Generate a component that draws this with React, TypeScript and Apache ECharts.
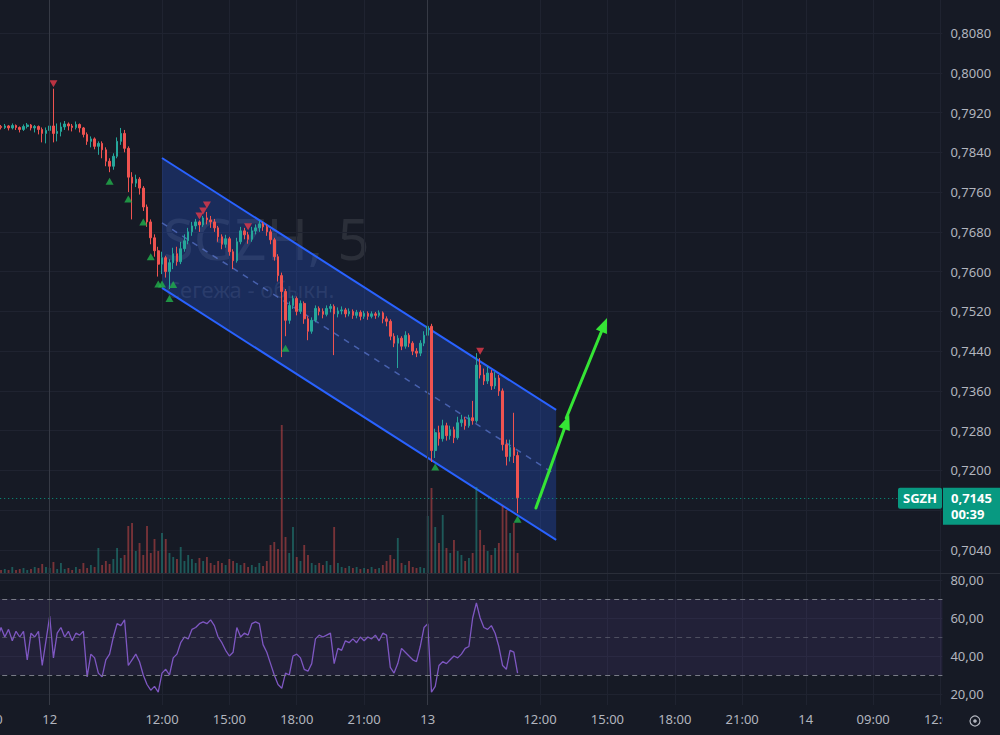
import React, { useEffect, useRef } from "react";
import * as echarts from "echarts";

const BG = "#161a25";
const GRID_LINE = "#1f2330";
const SEP_LINE = "#363a45";
const TEXT = "#b2b5be";
const UP = "#26a69a";
const DOWN = "#ef5350";
const FONT = "'Noto Sans', sans-serif";

// Trading sessions (10-minute slots)
const SESSIONS = [
  { day: "11", start: "21:00", end: "23:40" },
  { day: "12", start: "07:00", end: "23:40" },
  { day: "13", start: "07:00", end: "23:40" },
  { day: "14", start: "06:00", end: "12:00" },
];
const pad = (n: number) => (n < 10 ? "0" + n : "" + n);
const CATEGORIES: string[] = [];
for (const s of SESSIONS) {
  const [sh, sm] = s.start.split(":").map(Number);
  const [eh, em] = s.end.split(":").map(Number);
  for (let t = sh * 60 + sm; t <= eh * 60 + em; t += 10) {
    CATEGORIES.push(`${s.day} ${pad(Math.floor(t / 60))}:${pad(t % 60)}`);
  }
}

const TICK_CATEGORIES = [
  "11 21:00", "12 07:00", "12 12:00", "12 15:00", "12 18:00", "12 21:00",
  "13 07:00", "13 12:00", "13 15:00", "13 18:00", "13 21:00",
  "14 06:00", "14 09:00", "14 12:00",
];
const TICK_TEXTS = [
  "21:00", "12", "12:00", "15:00", "18:00", "21:00",
  "13", "12:00", "15:00", "18:00", "21:00",
  "14", "09:00", "12:00",
];
const SESSION_STARTS = ["12 07:00", "13 07:00"];

// [open, close, low, high] in 1/10000 RUB
const PRICE_SCALE = 10000;
const CANDLES = [
  [7888, 7890, 7884, 7894], [7890, 7890, 7885, 7895], [7890, 7887, 7883, 7893], [7887, 7892, 7884, 7896],
  [7892, 7890, 7886, 7895], [7890, 7893, 7887, 7897], [7893, 7889, 7884, 7895], [7889, 7894, 7886, 7898],
  [7894, 7890, 7885, 7896], [7890, 7886, 7880, 7892], [7886, 7892, 7883, 7896], [7892, 7895, 7888, 7899],
  [7895, 7889, 7884, 7897], [7889, 7892, 7880, 7895], [7892, 7886, 7876, 7894], [7886, 7878, 7860, 7890],
  [7878, 7884, 7858, 7890], [7884, 7893, 7865, 7895], [7893, 7878, 7860, 7968], [7878, 7882, 7862, 7898],
  [7882, 7891, 7872, 7900], [7891, 7897, 7885, 7903], [7897, 7893, 7884, 7900], [7893, 7890, 7882, 7897],
  [7890, 7896, 7886, 7902], [7896, 7889, 7880, 7898], [7889, 7876, 7870, 7891], [7876, 7862, 7855, 7880],
  [7862, 7867, 7850, 7872], [7867, 7852, 7846, 7870], [7852, 7858, 7835, 7862], [7858, 7845, 7828, 7862],
  [7845, 7822, 7812, 7850], [7822, 7812, 7800, 7828], [7812, 7832, 7805, 7838], [7832, 7862, 7828, 7870],
  [7862, 7878, 7855, 7889], [7878, 7848, 7840, 7885], [7848, 7790, 7760, 7852], [7790, 7778, 7705, 7800],
  [7778, 7786, 7770, 7795], [7786, 7768, 7755, 7790], [7768, 7730, 7722, 7772], [7730, 7700, 7690, 7735],
  [7700, 7668, 7655, 7705], [7668, 7642, 7630, 7675], [7642, 7615, 7590, 7650], [7615, 7628, 7595, 7640],
  [7628, 7600, 7588, 7632], [7600, 7618, 7565, 7625], [7618, 7636, 7605, 7648], [7636, 7620, 7612, 7650],
  [7620, 7646, 7615, 7660], [7646, 7662, 7640, 7675], [7662, 7680, 7655, 7688], [7680, 7692, 7672, 7700],
  [7692, 7700, 7685, 7706], [7700, 7694, 7680, 7703], [7694, 7708, 7690, 7712], [7708, 7704, 7695, 7720],
  [7704, 7700, 7688, 7712], [7700, 7688, 7680, 7706], [7688, 7670, 7660, 7692], [7670, 7655, 7645, 7675],
  [7655, 7666, 7648, 7674], [7666, 7640, 7632, 7670], [7640, 7622, 7605, 7645], [7622, 7660, 7618, 7668],
  [7660, 7682, 7655, 7690], [7682, 7674, 7665, 7688], [7674, 7665, 7656, 7680], [7665, 7682, 7660, 7690],
  [7682, 7688, 7675, 7695], [7688, 7696, 7680, 7703], [7696, 7690, 7682, 7700], [7690, 7680, 7672, 7695],
  [7680, 7664, 7655, 7685], [7664, 7630, 7622, 7668], [7630, 7592, 7580, 7635], [7592, 7560, 7428, 7598],
  [7560, 7502, 7470, 7565], [7502, 7532, 7495, 7540], [7532, 7546, 7525, 7552], [7546, 7520, 7512, 7550],
  [7520, 7536, 7515, 7542], [7536, 7505, 7495, 7540], [7505, 7480, 7462, 7510], [7480, 7502, 7475, 7508],
  [7502, 7526, 7498, 7532], [7526, 7520, 7512, 7530], [7520, 7514, 7506, 7526], [7514, 7526, 7510, 7532],
  [7526, 7530, 7518, 7535], [7530, 7515, 7432, 7534], [7515, 7521, 7508, 7528], [7521, 7523, 7514, 7530],
  [7523, 7515, 7508, 7527], [7515, 7520, 7510, 7526], [7520, 7512, 7505, 7524], [7512, 7518, 7506, 7523],
  [7518, 7510, 7502, 7522], [7510, 7516, 7505, 7521], [7516, 7510, 7503, 7520], [7510, 7515, 7506, 7520],
  [7515, 7512, 7505, 7519], [7512, 7517, 7508, 7522], [7517, 7505, 7496, 7520], [7505, 7500, 7490, 7510],
  [7500, 7470, 7462, 7504], [7470, 7456, 7448, 7476], [7456, 7466, 7406, 7472], [7466, 7450, 7442, 7470],
  [7450, 7472, 7445, 7480], [7472, 7456, 7448, 7476], [7456, 7440, 7432, 7460], [7440, 7436, 7428, 7446],
  [7436, 7456, 7430, 7462], [7456, 7472, 7450, 7480], [7472, 7490, 7465, 7513], [7490, 7240, 7217, 7495],
  [7240, 7276, 7225, 7284], [7276, 7264, 7250, 7290], [7264, 7290, 7258, 7302], [7290, 7270, 7260, 7296],
  [7270, 7282, 7262, 7290], [7282, 7266, 7255, 7288], [7266, 7296, 7262, 7308], [7296, 7302, 7288, 7312],
  [7302, 7290, 7282, 7308], [7290, 7306, 7286, 7312], [7306, 7300, 7292, 7340], [7300, 7412, 7296, 7436],
  [7412, 7392, 7385, 7426], [7392, 7380, 7372, 7405], [7380, 7396, 7374, 7410], [7396, 7370, 7362, 7402],
  [7370, 7386, 7364, 7398], [7386, 7360, 7350, 7392], [7360, 7252, 7240, 7365], [7252, 7228, 7210, 7262],
  [7228, 7246, 7218, 7262], [7246, 7230, 7215, 7316], [7230, 7145, 7114, 7238],
];

// volume, arbitrary units
const VOLUME = [
  3, 4, 2, 5, 3, 4, 3, 6, 3, 4, 5, 3, 4, 6, 5,
  9, 6, 5, 11, 4, 10, 4, 5, 3, 6, 4, 10, 5, 8, 6,
  25, 8, 12, 9, 14, 25, 15, 18, 47, 50, 22, 30, 18, 47, 20,
  34, 22, 40, 34, 20, 16, 14, 26, 12, 18, 14, 10, 15, 12, 16,
  10, 8, 12, 10, 8, 14, 12, 10, 8, 10, 6, 8, 6, 10, 7,
  12, 28, 31, 24, 148, 36, 20, 46, 16, 12, 28, 18, 10, 8, 10,
  8, 12, 8, 46, 10, 6, 5, 7, 5, 6, 4, 5, 4, 6, 4,
  5, 8, 12, 18, 14, 35, 10, 8, 12, 6, 5, 6, 5, 57, 85,
  46, 30, 58, 25, 20, 33, 22, 18, 12, 15, 20, 86, 43, 28, 22,
  18, 25, 30, 67, 63, 40, 50, 20,
];
const VOLUME_AXIS_MAX = 573;

const RSI = [
  52, 50, 54, 49, 55, 50, 54, 48, 53, 50, 53, 38, 52, 50, 53,
  35, 48, 61, 39, 52, 55, 50, 53, 48, 52, 51, 53, 29, 41, 39,
  31, 29, 38, 41, 50, 57, 56, 59, 35, 38, 41, 37, 30, 25, 22,
  24, 21, 31, 33, 30, 39, 41, 47, 50, 49, 54, 55, 57, 58, 57,
  59, 56, 50, 47, 43, 40, 42, 55, 50, 52, 51, 57, 58, 57, 46,
  42, 36, 30, 25, 23, 31, 30, 40, 41, 39, 33, 32, 36, 49, 51,
  50, 51, 52, 36, 44, 43, 48, 47, 49, 47, 50, 48, 50, 49, 51,
  48, 52, 51, 34, 31, 36, 44, 42, 40, 38, 37, 45, 55, 57, 21,
  24, 35, 37, 36, 38, 40, 39, 41, 44, 45, 60, 68, 60, 55, 54,
  56, 52, 45, 35, 33, 43, 42, 31,
];

// pivot markers [slot index, price]
const PIVOT_LOWS = [
  [33, 0.7782], [38, 0.7746], [42, 0.77], [44, 0.763], [46, 0.7575], [47, 0.7575],
  [49, 0.7546], [50, 0.7574], [80, 0.7446], [120, 0.7207], [142, 0.7102],
];
const PIVOT_HIGHS = [
  [18, 0.7978], [57, 0.7712], [58, 0.7722], [59, 0.7734], [70, 0.769], [132, 0.744],
];

const LAST_PRICE = 0.7145;
const COUNTDOWN = "00:39";
const SYMBOL = "SGZH";
const WATERMARK = "SGZH, 5";
const DESCRIPTION = "Сегежа - обыкн.";

const PRICE_RANGE = { min: 0.69937, max: 0.81464, step: 0.008 };
const RSI_RANGE = { min: 14.21, max: 83.16, step: 20 };
const RSI_LEVELS = [70, 50, 30];

// drawings anchored in (slot index, price)
const CHANNEL = { k0: 47, k1: 152.3, upper: [0.78286, 0.73217], lower: [0.75671, 0.70602] };
const ARROWS = [
  [146.9, 0.71245, 155.8, 0.73116],
  [155.0, 0.73056, 165.9, 0.75068],
];

const GRID_LEFT = -15.8;
const GRID_RIGHT = 57.6;

function coordAt(api: any, k: number, p: number) {
  const k0 = Math.floor(k);
  const a = api.coord([k0, p]);
  const b = api.coord([k0 + 1, p]);
  return [a[0] + (b[0] - a[0]) * (k - k0), a[1]];
}

function arrowShapes(api: any, a: number[], color: string) {
  const s = coordAt(api, a[0], a[1]);
  const e = coordAt(api, a[2], a[3]);
  const dx = e[0] - s[0];
  const dy = e[1] - s[1];
  const len = Math.sqrt(dx * dx + dy * dy);
  const ux = dx / len;
  const uy = dy / len;
  const L = 15;
  const W = 12;
  const bx = e[0] - ux * L;
  const by = e[1] - uy * L;
  const nx = -uy;
  const ny = ux;
  return [
    {
      type: "line",
      shape: { x1: s[0], y1: s[1], x2: bx + ux * 2, y2: by + uy * 2 },
      style: { stroke: color, lineWidth: 3, lineCap: "round" },
    },
    {
      type: "polygon",
      shape: {
        points: [
          [e[0], e[1]],
          [bx + (nx * W) / 2, by + (ny * W) / 2],
          [bx - (nx * W) / 2, by - (ny * W) / 2],
        ],
      },
      style: { fill: color },
    },
  ];
}

const tickSet = new Set(TICK_CATEGORIES);
const tickFilter = (_i: number, v: string) => tickSet.has(v);
const priceFmt = (v: number) => v.toFixed(4).replace(".", ",");
const priceAxisFmt = (v: number) =>
  Math.abs(v - LAST_PRICE) < PRICE_RANGE.step * 0.6 ? "" : priceFmt(v);
const rsiFmt = (v: number) => v.toFixed(2).replace(".", ",");

export default function App() {
  const ref = useRef<HTMLDivElement>(null);

  useEffect(() => {
    const chart = echarts.init(ref.current!, null, { renderer: "svg" });

    const candleData = CANDLES.map((c) => c.map((v) => v / PRICE_SCALE));
    const volumeData = VOLUME.map((v, i) => ({
      value: v,
      itemStyle: {
        color: CANDLES[i][1] >= CANDLES[i][0] ? "rgba(38,166,154,0.45)" : "rgba(239,83,80,0.45)",
      },
    }));

    const sepLines = SESSION_STARTS.map((c) => ({
      xAxis: c,
      lineStyle: { color: SEP_LINE, width: 1, type: "solid" },
    }));

    const gridBase = {
      left: GRID_LEFT,
      right: GRID_RIGHT,
      containLabel: false,
      outerBoundsMode: "none",
    };

    const option: any = {
      animation: false,
      backgroundColor: BG,
      textStyle: { fontFamily: FONT },
      grid: [
        { ...gridBase, top: 0, height: 573 },
        { ...gridBase, top: 574, height: 131 },
      ],
      xAxis: [
        {
          type: "category",
          gridIndex: 0,
          data: CATEGORIES,
          boundaryGap: true,
          axisLine: { show: false },
          axisTick: { show: false },
          axisLabel: { show: false },
          splitLine: {
            show: true,
            interval: tickFilter,
            alignWithLabel: true,
            lineStyle: { color: GRID_LINE, width: 1 },
          },
        },
        {
          type: "category",
          gridIndex: 1,
          data: CATEGORIES,
          boundaryGap: true,
          axisLine: { show: false },
          axisTick: { show: false, alignWithLabel: true },
          axisLabel: {
            show: true,
            interval: tickFilter,
            formatter: (v: string) => {
              const i = TICK_CATEGORIES.indexOf(v);
              return i >= 0 ? TICK_TEXTS[i] : "";
            },
            color: TEXT,
            fontSize: 13,
            margin: 7,
            fontFamily: FONT,
          },
          splitLine: {
            show: true,
            interval: tickFilter,
            alignWithLabel: true,
            lineStyle: { color: GRID_LINE, width: 1 },
          },
        },
      ],
      yAxis: [
        {
          type: "value",
          gridIndex: 0,
          position: "right",
          min: PRICE_RANGE.min,
          max: PRICE_RANGE.max,
          minInterval: PRICE_RANGE.step,
          maxInterval: PRICE_RANGE.step,
          splitNumber: 14,
          axisLine: { show: false },
          axisTick: { show: false },
          axisLabel: {
            formatter: priceAxisFmt,
            color: TEXT,
            fontSize: 13,
            margin: 8,
            showMinLabel: false,
            showMaxLabel: false,
            fontFamily: FONT,
          },
          splitLine: {
            show: true,
            showMinLine: false,
            showMaxLine: false,
            lineStyle: { color: GRID_LINE, width: 1 },
          },
        },
        {
          type: "value",
          gridIndex: 0,
          min: 0,
          max: VOLUME_AXIS_MAX,
          show: false,
          splitLine: { show: false },
        },
        {
          type: "value",
          gridIndex: 1,
          position: "right",
          min: RSI_RANGE.min,
          max: RSI_RANGE.max,
          minInterval: RSI_RANGE.step,
          maxInterval: RSI_RANGE.step,
          splitNumber: 3,
          axisLine: { show: false },
          axisTick: { show: false },
          axisLabel: {
            formatter: rsiFmt,
            color: TEXT,
            fontSize: 13,
            margin: 8,
            showMinLabel: false,
            showMaxLabel: false,
            fontFamily: FONT,
          },
          splitLine: {
            show: true,
            showMinLine: false,
            showMaxLine: false,
            lineStyle: { color: GRID_LINE, width: 1 },
          },
        },
      ],
      series: [
        {
          type: "custom",
          name: "channel",
          xAxisIndex: 0,
          yAxisIndex: 0,
          z: 1,
          silent: true,
          data: [[0, LAST_PRICE]],
          renderItem: (_p: any, api: any) => {
            const u0 = coordAt(api, CHANNEL.k0, CHANNEL.upper[0]);
            const u1 = coordAt(api, CHANNEL.k1, CHANNEL.upper[1]);
            const l0 = coordAt(api, CHANNEL.k0, CHANNEL.lower[0]);
            const l1 = coordAt(api, CHANNEL.k1, CHANNEL.lower[1]);
            const m0 = coordAt(api, CHANNEL.k0, (CHANNEL.upper[0] + CHANNEL.lower[0]) / 2);
            const m1 = coordAt(api, CHANNEL.k1, (CHANNEL.upper[1] + CHANNEL.lower[1]) / 2);
            const children: any[] = [
              {
                type: "polygon",
                shape: { points: [u0, u1, l1, l0] },
                style: { fill: "rgba(41,98,255,0.25)" },
              },
              {
                type: "line",
                shape: { x1: m0[0], y1: m0[1], x2: m1[0], y2: m1[1] },
                style: { stroke: "rgba(110,140,240,0.55)", lineWidth: 1.5, lineDash: [6, 6] },
              },
              {
                type: "line",
                shape: { x1: u0[0], y1: u0[1], x2: u1[0], y2: u1[1] },
                style: { stroke: "#2962ff", lineWidth: 2 },
              },
              {
                type: "line",
                shape: { x1: l0[0], y1: l0[1], x2: l1[0], y2: l1[1] },
                style: { stroke: "#2962ff", lineWidth: 2 },
              },
            ];
            for (const a of ARROWS) children.push(...arrowShapes(api, a, "#35e535"));
            return { type: "group", children };
          },
        },
        {
          type: "bar",
          name: "volume",
          xAxisIndex: 0,
          yAxisIndex: 1,
          barWidth: "50%",
          z: 2,
          silent: true,
          data: volumeData,
        },
        {
          type: "candlestick",
          name: SYMBOL,
          xAxisIndex: 0,
          yAxisIndex: 0,
          barWidth: "55%",
          z: 3,
          silent: true,
          data: candleData,
          itemStyle: {
            color: UP,
            color0: DOWN,
            borderColor: UP,
            borderColor0: DOWN,
            borderWidth: 1,
          },
        },
        {
          type: "scatter",
          name: "pivot low",
          xAxisIndex: 0,
          yAxisIndex: 0,
          symbol: "triangle",
          symbolSize: [8, 7],
          z: 4,
          silent: true,
          itemStyle: { color: "#22b14c" },
          data: PIVOT_LOWS,
          markLine: {
            silent: true,
            precision: 4,
            symbol: ["none", "none"],
            label: { show: false },
            data: [
              ...sepLines,
              { yAxis: LAST_PRICE, lineStyle: { color: "#089981", width: 1, type: [1, 3] } },
            ],
          },
        },
        {
          type: "scatter",
          name: "pivot high",
          xAxisIndex: 0,
          yAxisIndex: 0,
          symbol: "triangle",
          symbolRotate: 180,
          symbolSize: [8, 7],
          z: 4,
          silent: true,
          itemStyle: { color: "#e5394a" },
          data: PIVOT_HIGHS,
        },
        {
          type: "line",
          name: "RSI",
          xAxisIndex: 1,
          yAxisIndex: 2,
          data: RSI,
          symbol: "none",
          silent: true,
          z: 3,
          lineStyle: { color: "#7e57c2", width: 1.3 },
          markArea: {
            silent: true,
            itemStyle: { color: "rgba(126,87,194,0.12)" },
            data: [[{ yAxis: RSI_LEVELS[2] }, { yAxis: RSI_LEVELS[0] }]],
          },
          markLine: {
            silent: true,
            precision: 2,
            symbol: ["none", "none"],
            label: { show: false },
            data: [
              ...sepLines,
              { yAxis: RSI_LEVELS[0], lineStyle: { color: "#787b86", width: 1, type: [5, 4] } },
              { yAxis: RSI_LEVELS[1], lineStyle: { color: "rgba(120,123,134,0.5)", width: 1, type: [5, 4] } },
              { yAxis: RSI_LEVELS[2], lineStyle: { color: "#787b86", width: 1, type: [5, 4] } },
            ],
          },
        },
      ],
      graphic: {
        elements: [
          {
            id: "wm1",
            type: "text",
            x: 163,
            y: 238,
            z: 0,
            silent: true,
            style: {
              text: WATERMARK,
              fontSize: 56,
              lineHeight: 50,
              fontFamily: FONT,
              fill: "rgba(120,123,134,0.22)",
              verticalAlign: "middle",
            },
          },
          {
            id: "wm2",
            type: "text",
            x: 166,
            y: 289,
            z: 0,
            silent: true,
            style: {
              text: DESCRIPTION,
              fontSize: 22,
              lineHeight: 22,
              fontFamily: FONT,
              fill: "rgba(120,123,134,0.22)",
              verticalAlign: "middle",
            },
          },
          {
            id: "sep",
            type: "line",
            z: 50,
            silent: true,
            shape: { x1: 0, y1: 573.5, x2: 1000, y2: 573.5 },
            style: { stroke: "#2a2e39", lineWidth: 1 },
          },
          {
            id: "cover",
            type: "rect",
            z: 50,
            silent: true,
            shape: { x: 943, y: 706, width: 57, height: 29 },
            style: { fill: BG },
          },
          {
            id: "eye1",
            type: "circle",
            z: 51,
            silent: true,
            shape: { cx: 975, cy: 721, r: 5 },
            style: { stroke: TEXT, fill: "none", lineWidth: 1.2 },
          },
          {
            id: "eye2",
            type: "circle",
            z: 51,
            silent: true,
            shape: { cx: 975, cy: 721, r: 1.8 },
            style: { fill: TEXT },
          },
        ],
      },
    };

    chart.setOption(option);

    const py = chart.convertToPixel({ yAxisIndex: 0 } as any, LAST_PRICE) as number;
    chart.setOption({
      graphic: {
        elements: [
          {
            id: "tagSym",
            type: "rect",
            z: 100,
            silent: true,
            shape: { x: 898, y: py - 10, width: 44, height: 21, r: 2 },
            style: { fill: "#089981" },
          },
          {
            id: "tagSymText",
            type: "text",
            z: 101,
            silent: true,
            x: 920,
            y: py + 0.5,
            style: {
              text: SYMBOL,
              fill: "#ffffff",
              fontSize: 13,
              fontWeight: "bold",
              fontFamily: FONT,
              align: "center",
              verticalAlign: "middle",
            },
          },
          {
            id: "tagPrice",
            type: "rect",
            z: 100,
            silent: true,
            shape: { x: 943, y: py - 10, width: 57, height: 37 },
            style: { fill: "#089981" },
          },
          {
            id: "tagPriceText",
            type: "text",
            z: 101,
            silent: true,
            x: 951,
            y: py - 8,
            style: {
              text: priceFmt(LAST_PRICE) + "\n" + COUNTDOWN,
              fill: "#ffffff",
              fontSize: 13,
              lineHeight: 16,
              fontWeight: "bold",
              fontFamily: FONT,
              verticalAlign: "top",
            },
          },
        ],
      },
    });

    return () => chart.dispose();
  }, []);

  return (
    <div
      ref={ref}
      style={{ position: "fixed", left: 0, top: 0, width: 1000, height: 735, background: BG }}
    />
  );
}
